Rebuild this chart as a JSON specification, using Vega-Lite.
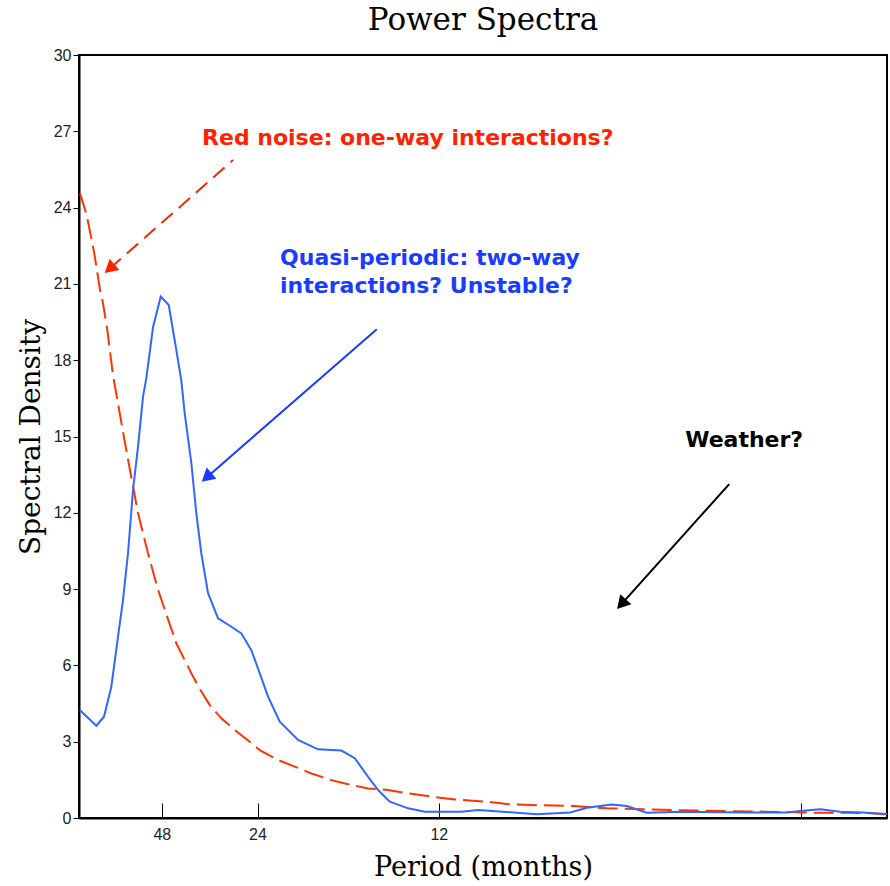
{
  "$schema": "https://vega.github.io/schema/vega-lite/v6.json",
  "width": 808,
  "height": 763,
  "autosize": {"type": "none"},
  "padding": {"left": 79, "top": 55, "right": 3, "bottom": 68},
  "background": "white",
  "title": {"text": "Power Spectra", "font": "DejaVu Serif", "fontSize": 31, "fontWeight": "normal", "color": "black", "anchor": "middle", "offset": 10},
  "config": {"view": {"stroke": "black", "strokeWidth": 2}},
  "datasets": {
    "spectrum": [
      {"freq": 0.01, "density": 4.25}, {"freq": 0.0554, "density": 3.63}, {"freq": 0.0767, "density": 3.98},
      {"freq": 0.0968, "density": 5.16}, {"freq": 0.1153, "density": 7.13}, {"freq": 0.1291, "density": 8.57},
      {"freq": 0.1429, "density": 10.42}, {"freq": 0.1567, "density": 12.9}, {"freq": 0.1705, "density": 14.6},
      {"freq": 0.1843, "density": 16.57}, {"freq": 0.1934, "density": 17.3}, {"freq": 0.2119, "density": 19.3},
      {"freq": 0.2331, "density": 20.5}, {"freq": 0.2552, "density": 20.17}, {"freq": 0.2761, "density": 18.4},
      {"freq": 0.2899, "density": 17.2}, {"freq": 0.2993, "density": 15.9}, {"freq": 0.3175, "density": 13.95},
      {"freq": 0.3313, "density": 11.98}, {"freq": 0.3451, "density": 10.4}, {"freq": 0.3636, "density": 8.84},
      {"freq": 0.3912, "density": 7.85}, {"freq": 0.4279, "density": 7.52}, {"freq": 0.4554, "density": 7.26},
      {"freq": 0.483, "density": 6.6}, {"freq": 0.5062, "density": 5.69}, {"freq": 0.5291, "density": 4.77},
      {"freq": 0.5614, "density": 3.79}, {"freq": 0.6119, "density": 3.07}, {"freq": 0.667, "density": 2.7},
      {"freq": 0.7313, "density": 2.65}, {"freq": 0.7683, "density": 2.35}, {"freq": 0.805, "density": 1.62},
      {"freq": 0.8326, "density": 1.1}, {"freq": 0.8648, "density": 0.64}, {"freq": 0.9153, "density": 0.38},
      {"freq": 0.9614, "density": 0.25}, {"freq": 1.0623, "density": 0.25}, {"freq": 1.1084, "density": 0.31},
      {"freq": 1.2058, "density": 0.22}, {"freq": 1.2703, "density": 0.15}, {"freq": 1.3622, "density": 0.22},
      {"freq": 1.4083, "density": 0.4}, {"freq": 1.4772, "density": 0.53}, {"freq": 1.5186, "density": 0.47},
      {"freq": 1.5738, "density": 0.21}, {"freq": 1.6657, "density": 0.25}, {"freq": 1.8497, "density": 0.22},
      {"freq": 1.96, "density": 0.22}, {"freq": 1.9967, "density": 0.28}, {"freq": 2.0519, "density": 0.34},
      {"freq": 2.107, "density": 0.25}, {"freq": 2.1713, "density": 0.22}, {"freq": 2.2265, "density": 0.15},
      {"freq": 2.2359, "density": 0.17}
    ],
    "noise": [
      {"freq": 0.0105, "density": 24.56}, {"freq": 0.029, "density": 23.7}, {"freq": 0.0499, "density": 22.2},
      {"freq": 0.0657, "density": 20.76}, {"freq": 0.0739, "density": 20.24}, {"freq": 0.0858, "density": 19.19},
      {"freq": 0.1015, "density": 17.4}, {"freq": 0.1153, "density": 16.3}, {"freq": 0.1338, "density": 14.8},
      {"freq": 0.152, "density": 13.4}, {"freq": 0.1705, "density": 11.98}, {"freq": 0.1981, "density": 10.4},
      {"freq": 0.2257, "density": 8.97}, {"freq": 0.2579, "density": 7.62}, {"freq": 0.2761, "density": 6.87},
      {"freq": 0.2993, "density": 6.21}, {"freq": 0.3222, "density": 5.56}, {"freq": 0.3451, "density": 4.97},
      {"freq": 0.3683, "density": 4.44}, {"freq": 0.4003, "density": 3.92}, {"freq": 0.4372, "density": 3.46},
      {"freq": 0.4786, "density": 3.0}, {"freq": 0.5062, "density": 2.67}, {"freq": 0.5567, "density": 2.28},
      {"freq": 0.6028, "density": 2.02}, {"freq": 0.6486, "density": 1.75}, {"freq": 0.7037, "density": 1.49},
      {"freq": 0.7407, "density": 1.36}, {"freq": 0.805, "density": 1.16}, {"freq": 0.8601, "density": 1.1},
      {"freq": 0.9153, "density": 0.97}, {"freq": 0.9796, "density": 0.84}, {"freq": 1.0441, "density": 0.73},
      {"freq": 1.1324, "density": 0.64}, {"freq": 1.1876, "density": 0.55}, {"freq": 1.2519, "density": 0.51},
      {"freq": 1.3713, "density": 0.47}, {"freq": 1.4634, "density": 0.38}, {"freq": 1.5738, "density": 0.34},
      {"freq": 1.7117, "density": 0.29}, {"freq": 1.8954, "density": 0.25}, {"freq": 2.0334, "density": 0.21},
      {"freq": 2.1713, "density": 0.2}, {"freq": 2.2359, "density": 0.16}
    ],
    "arrows": [
      {"arrow": "red", "freq": 0.4326, "density": 25.87},
      {"arrow": "red", "freq": 0.0921, "density": 21.6},
      {"arrow": "blue", "freq": 0.829, "density": 19.22},
      {"arrow": "blue", "freq": 0.3597, "density": 13.39},
      {"arrow": "black", "freq": 1.8009, "density": 13.13},
      {"arrow": "black", "freq": 1.5037, "density": 8.41}
    ],
    "heads": [
      {"arrow": "red", "freq": 0.0921, "density": 21.6, "angle": 228.8},
      {"arrow": "blue", "freq": 0.3597, "density": 13.39, "angle": 228.9},
      {"arrow": "black", "freq": 1.5037, "density": 8.41, "angle": 221.9}
    ],
    "notes": [
      {"group": "red", "freq": 0.347, "density": 26.46, "text": "Red noise: one-way interactions?"},
      {"group": "blue", "freq": 0.5622, "density": 21.75, "text": "Quasi-periodic: two-way"},
      {"group": "blue", "freq": 0.5622, "density": 20.64, "text": "interactions? Unstable?"},
      {"group": "black", "freq": 1.6794, "density": 14.59, "text": "Weather?"}
    ]
  },
  "layer": [
    {
      "data": {"name": "noise"},
      "mark": {"type": "line", "color": "#ff3300", "strokeWidth": 2, "strokeDash": [20, 7]},
      "encoding": {
        "x": {"field": "freq", "type": "quantitative",
          "scale": {"domain": [0.0077, 2.236], "nice": false, "zero": false},
          "axis": {"title": "Period (months)", "values": [0.236, 0.5, 1, 2],
            "labelExpr": "datum.value < 0.3 ? '48' : datum.value < 0.7 ? '24' : datum.value < 1.5 ? '12' : ''",
            "grid": false, "tickSize": -15, "tickColor": "black", "tickWidth": 1,
            "domainColor": "black", "domainWidth": 2,
            "labelFont": "Liberation Sans Narrow, Liberation Sans", "labelFontSize": 16, "labelColor": "#222",
            "labelPadding": 23, "labelDx": 3,
            "titleFont": "DejaVu Serif", "titleFontSize": 27, "titleFontWeight": "normal", "titleColor": "black", "titlePadding": 12}},
        "y": {"field": "density", "type": "quantitative",
          "scale": {"domain": [0, 30], "nice": false},
          "axis": {"title": "Spectral Density", "values": [0, 3, 6, 9, 12, 15, 18, 21, 24, 27, 30],
            "grid": false, "tickSize": 6, "tickColor": "black", "tickWidth": 1,
            "domainColor": "black", "domainWidth": 2,
            "labelFont": "Liberation Sans Narrow, Liberation Sans", "labelFontSize": 16, "labelColor": "#222",
            "labelPadding": 2,
            "titleFont": "DejaVu Serif", "titleFontSize": 28, "titleFontWeight": "normal", "titleColor": "black", "titlePadding": 8}}
      }
    },
    {
      "data": {"name": "spectrum"},
      "mark": {"type": "line", "color": "#3366ff", "strokeWidth": 2},
      "encoding": {
        "x": {"field": "freq", "type": "quantitative"},
        "y": {"field": "density", "type": "quantitative"}
      }
    },
    {
      "mark": {"type": "rule", "color": "black", "strokeWidth": 2, "strokeDash": [3, 2]},
      "encoding": {"y": {"datum": 7.5}}
    },
    {
      "data": {"name": "arrows"},
      "transform": [{"filter": "datum.arrow === 'red'"}],
      "mark": {"type": "line", "color": "#ff2200", "strokeWidth": 2, "strokeDash": [15, 8]},
      "encoding": {
        "x": {"field": "freq", "type": "quantitative"},
        "y": {"field": "density", "type": "quantitative"}
      }
    },
    {
      "data": {"name": "arrows"},
      "transform": [{"filter": "datum.arrow === 'blue'"}],
      "mark": {"type": "line", "color": "#1a3cff", "strokeWidth": 2},
      "encoding": {
        "x": {"field": "freq", "type": "quantitative"},
        "y": {"field": "density", "type": "quantitative"}
      }
    },
    {
      "data": {"name": "arrows"},
      "transform": [{"filter": "datum.arrow === 'black'"}],
      "mark": {"type": "line", "color": "black", "strokeWidth": 2},
      "encoding": {
        "x": {"field": "freq", "type": "quantitative"},
        "y": {"field": "density", "type": "quantitative"}
      }
    },
    {
      "data": {"name": "heads"},
      "mark": {"type": "point", "shape": "triangle-up", "filled": true, "size": 225, "opacity": 1},
      "encoding": {
        "x": {"field": "freq", "type": "quantitative"},
        "y": {"field": "density", "type": "quantitative"},
        "angle": {"field": "angle", "type": "quantitative", "scale": null},
        "color": {"field": "arrow", "type": "nominal", "legend": null,
          "scale": {"domain": ["red", "blue", "black"], "range": ["#ff2200", "#1a3cff", "black"]}}
      }
    },
    {
      "data": {"name": "notes"},
      "mark": {"type": "text", "align": "left", "baseline": "alphabetic", "font": "DejaVu Sans", "fontWeight": "bold", "fontSize": 22},
      "encoding": {
        "x": {"field": "freq", "type": "quantitative"},
        "y": {"field": "density", "type": "quantitative"},
        "text": {"field": "text"},
        "color": {"field": "group", "type": "nominal", "legend": null,
          "scale": {"domain": ["red", "blue", "black"], "range": ["#ff2200", "#1133ff", "black"]}}
      }
    }
  ]
}
